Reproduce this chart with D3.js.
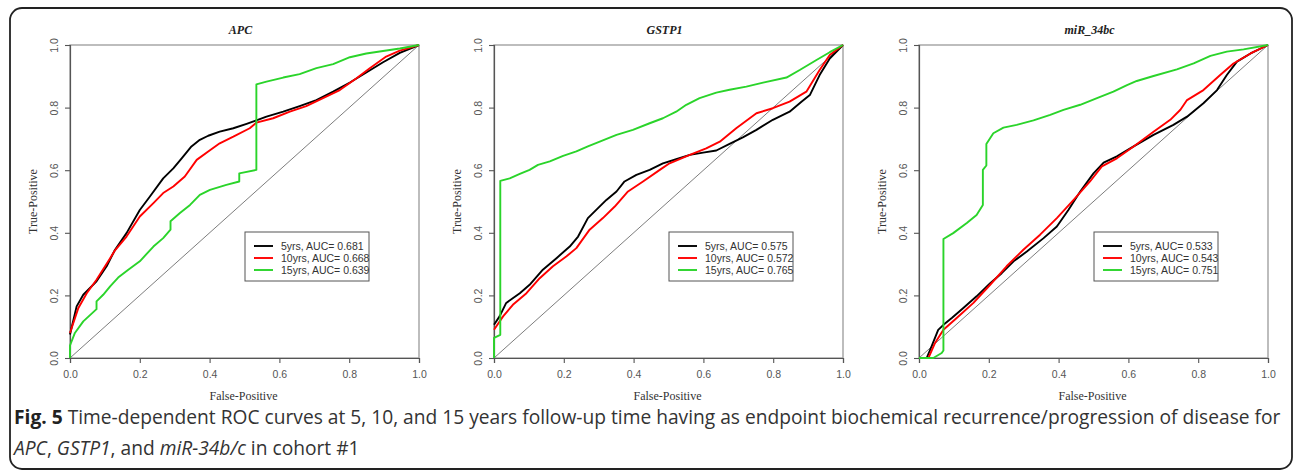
<!DOCTYPE html>
<html><head><meta charset="utf-8">
<script src="https://cdn.jsdelivr.net/npm/d3@7"></script>
<style>body{margin:0;background:#fff}svg{display:block}</style>
</head><body>
<script>
// ---------- data ----------
const panelTitles = ["APC", "GSTP1", "miR_34bc"];
const seriesNames = ["5yrs", "10yrs", "15yrs"];
const aucAPC = ["0.681", "0.668", "0.639"];
const aucGSTP1 = ["0.575", "0.572", "0.765"];
const aucMIR = ["0.533", "0.543", "0.751"];
const tickValues = [0, 0.2, 0.4, 0.6, 0.8, 1.0];
const xLabel = "False-Positive";
const yLabel = "True-Positive";

const apc5 = [[0,0.075],[0.019,0.165],[0.038,0.202],[0.076,0.245],[0.105,0.293],[0.129,0.346],[0.162,0.399],[0.2,0.473],[0.229,0.516],[0.267,0.574],[0.296,0.606],[0.32,0.638],[0.348,0.676],[0.372,0.697],[0.396,0.71],[0.429,0.723],[0.468,0.734],[0.506,0.748],[0.534,0.759],[0.563,0.771],[0.611,0.787],[0.658,0.805],[0.706,0.824],[0.754,0.851],[0.802,0.88],[0.849,0.912],[0.897,0.945],[0.945,0.975],[1,1]];
const apc10 = [[0,0.08],[0.024,0.16],[0.048,0.207],[0.076,0.25],[0.115,0.319],[0.129,0.344],[0.162,0.388],[0.2,0.452],[0.239,0.495],[0.267,0.527],[0.296,0.548],[0.329,0.58],[0.363,0.633],[0.396,0.66],[0.429,0.686],[0.468,0.707],[0.515,0.734],[0.534,0.752],[0.582,0.766],[0.63,0.787],[0.677,0.805],[0.725,0.83],[0.773,0.856],[0.821,0.894],[0.859,0.926],[0.906,0.963],[0.945,0.982],[1,1]];
const apc15 = [[0,0],[0,0.04],[0.014,0.08],[0.038,0.117],[0.076,0.156],[0.076,0.181],[0.095,0.202],[0.115,0.229],[0.138,0.257],[0.167,0.282],[0.2,0.309],[0.239,0.356],[0.267,0.383],[0.288,0.41],[0.288,0.437],[0.315,0.463],[0.344,0.489],[0.372,0.521],[0.401,0.537],[0.448,0.553],[0.485,0.564],[0.485,0.59],[0.534,0.601],[0.534,0.874],[0.563,0.883],[0.611,0.896],[0.658,0.907],[0.706,0.926],[0.754,0.939],[0.802,0.961],[0.849,0.973],[0.897,0.981],[0.945,0.989],[1,1]];

const gst5 = [[0,0.106],[0.016,0.133],[0.035,0.176],[0.074,0.207],[0.102,0.234],[0.14,0.282],[0.179,0.319],[0.217,0.356],[0.241,0.388],[0.269,0.447],[0.298,0.479],[0.322,0.505],[0.351,0.532],[0.374,0.564],[0.408,0.585],[0.446,0.601],[0.484,0.622],[0.522,0.635],[0.561,0.649],[0.599,0.656],[0.637,0.663],[0.675,0.684],[0.713,0.705],[0.752,0.729],[0.799,0.761],[0.847,0.787],[0.881,0.819],[0.905,0.84],[0.933,0.904],[0.962,0.957],[1,1]];
const gst10 = [[0,0.09],[0.026,0.133],[0.054,0.17],[0.093,0.207],[0.131,0.255],[0.169,0.293],[0.207,0.324],[0.236,0.351],[0.274,0.41],[0.312,0.447],[0.346,0.484],[0.384,0.532],[0.427,0.564],[0.475,0.601],[0.503,0.622],[0.561,0.649],[0.608,0.67],[0.647,0.691],[0.694,0.734],[0.752,0.782],[0.799,0.798],[0.847,0.819],[0.895,0.851],[0.933,0.92],[0.962,0.968],[1,1]];
const gst15 = [[0,0],[0,0.064],[0.018,0.074],[0.018,0.566],[0.045,0.574],[0.074,0.588],[0.102,0.601],[0.126,0.617],[0.16,0.628],[0.198,0.646],[0.236,0.66],[0.269,0.676],[0.303,0.691],[0.351,0.713],[0.398,0.729],[0.446,0.75],[0.484,0.766],[0.522,0.787],[0.551,0.809],[0.589,0.83],[0.637,0.848],[0.675,0.857],[0.723,0.867],[0.771,0.88],[0.838,0.896],[0.876,0.92],[0.924,0.952],[0.962,0.977],[1,1]];

const mir5 = [[0,0],[0.022,0],[0.036,0.037],[0.055,0.09],[0.07,0.106],[0.094,0.128],[0.127,0.16],[0.165,0.197],[0.204,0.239],[0.237,0.271],[0.271,0.309],[0.309,0.34],[0.357,0.383],[0.395,0.42],[0.428,0.473],[0.462,0.532],[0.5,0.59],[0.529,0.624],[0.567,0.644],[0.615,0.676],[0.672,0.713],[0.729,0.745],[0.768,0.771],[0.815,0.814],[0.854,0.856],[0.882,0.904],[0.911,0.947],[0.95,0.973],[1,1]];
const mir10 = [[0,0],[0.027,0],[0.046,0.048],[0.07,0.09],[0.108,0.128],[0.156,0.176],[0.204,0.234],[0.251,0.293],[0.299,0.346],[0.347,0.394],[0.395,0.447],[0.443,0.505],[0.49,0.564],[0.524,0.612],[0.567,0.638],[0.615,0.676],[0.672,0.723],[0.72,0.761],[0.749,0.793],[0.768,0.824],[0.815,0.856],[0.863,0.904],[0.901,0.941],[0.95,0.973],[1,1]];
const mir15 = [[0,0],[0.041,0],[0.065,0.016],[0.07,0.024],[0.07,0.38],[0.098,0.399],[0.137,0.431],[0.165,0.457],[0.183,0.489],[0.183,0.601],[0.193,0.615],[0.193,0.684],[0.213,0.718],[0.242,0.736],[0.28,0.745],[0.328,0.759],[0.376,0.777],[0.414,0.793],[0.462,0.809],[0.51,0.83],[0.557,0.851],[0.596,0.872],[0.624,0.885],[0.672,0.901],[0.739,0.922],[0.787,0.941],[0.835,0.965],[0.882,0.979],[0.93,0.986],[1,1]];

const panelSeries = [[apc5, apc10, apc15], [gst5, gst10, gst15], [mir5, mir10, mir15]];
const panelAUC = [aucAPC, aucGSTP1, aucMIR];

// ---------- layout ----------
const W = 1295, H = 472;
const colors = ["#000000", "#ff0000", "#2ad42a"];
const plotX = [[70, 419], [494, 843], [919, 1268]];
const yTop = 45, yBot = 358;

const svg = d3.select("body").append("svg").attr("width", W).attr("height", H);

// frame
svg.append("rect").attr("x", 10).attr("y", 8).attr("width", 1282).attr("height", 461)
  .attr("rx", 12).attr("ry", 12).attr("fill", "#fff").attr("stroke", "#222").attr("stroke-width", 1.8);

const y = d3.scaleLinear().domain([0, 1]).range([yBot, yTop]);

panelTitles.forEach((title, i) => {
  const [x0, x1] = plotX[i];
  const x = d3.scaleLinear().domain([0, 1]).range([x0, x1]);
  const g = svg.append("g");

  // plot box
  g.append("rect").attr("x", x0).attr("y", yTop).attr("width", x1 - x0).attr("height", yBot - yTop)
    .attr("fill", "none").attr("stroke", "#9a9a9a").attr("stroke-width", 1.3);

  // diagonal
  g.append("line").attr("x1", x(0)).attr("y1", y(0)).attr("x2", x(1)).attr("y2", y(1))
    .attr("stroke", "#6e6e6e").attr("stroke-width", 0.9);

  // axes
  const xa = g.append("g").attr("transform", `translate(0,${yBot})`)
    .call(d3.axisBottom(x).tickValues(tickValues).tickFormat(d3.format(".1f")).tickSize(5).tickPadding(8));
  const ya = g.append("g").attr("transform", `translate(${x0},0)`)
    .call(d3.axisLeft(y).tickValues(tickValues).tickFormat(d3.format(".1f")).tickSize(5).tickPadding(4));
  [xa, ya].forEach(a => {
    a.select(".domain").attr("stroke", "#555").attr("stroke-width", 1.2);
    a.selectAll(".tick line").attr("stroke", "#555").attr("stroke-width", 1.1);
    a.selectAll(".tick text").attr("fill", "#555").style("font-family", "'Liberation Sans', Arial, sans-serif").style("font-size", "10.5px");
  });
  ya.selectAll(".tick text").attr("text-anchor", "middle").attr("x", 0).attr("y", 0).attr("dy", "0")
    .attr("transform", "translate(-12,0) rotate(-90)");

  // curves
  const line = d3.line().x(d => x(d[0])).y(d => y(d[1]));
  panelSeries[i].forEach((s, k) => {
    g.append("path").datum(s).attr("d", line).attr("fill", "none")
      .attr("stroke", colors[k]).attr("stroke-width", 1.9).attr("stroke-linejoin", "round");
  });

  // title
  g.append("text").attr("x", (x0 + x1) / 2 - 4).attr("y", 34).attr("text-anchor", "middle")
    .style("font-family", "'Liberation Serif', 'Times New Roman', serif").style("font-size", "12px")
    .style("font-weight", "bold").style("font-style", "italic").attr("fill", "#222").text(title);

  // axis titles
  g.append("text").attr("x", (x0 + x1) / 2 - 1).attr("y", 400).attr("text-anchor", "middle")
    .style("font-family", "'Liberation Serif', 'Times New Roman', serif").style("font-size", "12px")
    .attr("fill", "#333").text(xLabel);
  g.append("text").attr("transform", `translate(${x0 - 33},${(yTop + yBot) / 2}) rotate(-90)`)
    .attr("text-anchor", "middle")
    .style("font-family", "'Liberation Serif', 'Times New Roman', serif").style("font-size", "12px")
    .attr("fill", "#333").text(yLabel);

  // legend
  const lx = x0 + 175, ly = 232;
  const lg = g.append("g");
  lg.append("rect").attr("x", lx).attr("y", ly).attr("width", 124).attr("height", 49)
    .attr("fill", "#fff").attr("stroke", "#555").attr("stroke-width", 1);
  seriesNames.forEach((n, k) => {
    const cy = ly + 14 + k * 12;
    lg.append("line").attr("x1", lx + 9).attr("x2", lx + 28).attr("y1", cy).attr("y2", cy)
      .attr("stroke", colors[k]).attr("stroke-width", 1.9);
    lg.append("text").attr("x", lx + 36).attr("y", cy + 4)
      .style("font-family", "'Liberation Sans', Arial, sans-serif").style("font-size", "10.5px")
      .attr("fill", "#333").text(`${n}, AUC= ${panelAUC[i][k]}`);
  });
});

// caption
const cap = svg.append("g").style("font-family", "'Open Sans', 'Noto Sans', sans-serif")
  .style("font-size", "19.2px").attr("fill", "#333");
const t1 = cap.append("text").attr("x", 14).attr("y", 424);
t1.append("tspan").style("font-weight", "bold").attr("fill", "#222").text("Fig. 5");
t1.append("tspan").text(" Time-dependent ROC curves at 5, 10, and 15 years follow-up time having as endpoint biochemical recurrence/progression of disease for");
const t2 = cap.append("text").attr("x", 14).attr("y", 455);
t2.append("tspan").style("font-style", "italic").text("APC");
t2.append("tspan").text(", ");
t2.append("tspan").style("font-style", "italic").text("GSTP1");
t2.append("tspan").text(", and ");
t2.append("tspan").style("font-style", "italic").text("miR-34b/c");
t2.append("tspan").text(" in cohort #1");
</script>
</body></html>
